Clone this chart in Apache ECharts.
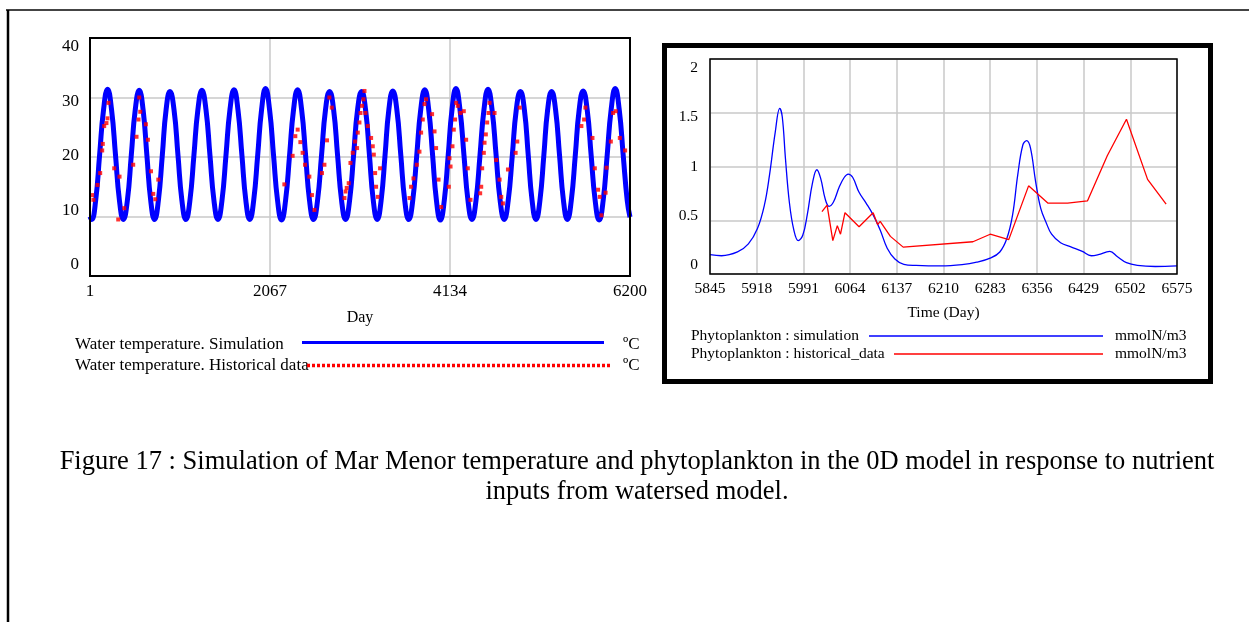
<!DOCTYPE html>
<html>
<head>
<meta charset="utf-8">
<script src="https://cdn.jsdelivr.net/npm/echarts@6/dist/echarts.min.js"></script>
<style>
  html, body { margin: 0; padding: 0; background: #fff; }
  #chart { width: 1249px; height: 622px; }
</style>
</head>
<body>
<div id="chart"></div>
<script>
// ---- Water temperature panel (days 1..6200) ----
const tempXLabels = ['1', '2067', '4134', '6200'];

// simulated water temperature, read at peaks, troughs and intermediate points (ºC)
const simDays = [
  1, 20, 66, 111, 157, 203, 248, 294, 339, 384,
  430, 475, 521, 566, 610, 654, 698, 742,
  786, 831, 875, 919, 965, 1011, 1056, 1102,
  1148, 1194, 1240, 1286, 1332, 1378, 1424, 1470,
  1516, 1562, 1608, 1654, 1699, 1745, 1790, 1835,
  1880, 1926, 1971, 2016, 2062, 2108, 2154, 2200,
  2246, 2292, 2338, 2384, 2430, 2476, 2521, 2567,
  2613, 2659, 2705, 2751, 2797, 2843, 2889, 2935,
  2981, 3027, 3073, 3119, 3164, 3209, 3253, 3298,
  3343, 3388, 3432, 3477, 3523, 3569, 3614, 3660,
  3706, 3752, 3798, 3844, 3889, 3934, 3978, 4023,
  4068, 4113, 4157, 4202, 4248, 4294, 4340, 4386,
  4432, 4478, 4524, 4570, 4616, 4663, 4709, 4756,
  4802, 4849, 4895, 4942, 4987, 5032, 5076, 5121,
  5166, 5211, 5255, 5300, 5345, 5391, 5436, 5481,
  5526, 5572, 5617, 5662, 5708, 5754, 5800, 5846,
  5892, 5938, 5984, 6030, 6076, 6122, 6168, 6200
];
const simTemps = [
  10.0, 9.5, 12.7, 20.3, 28.0, 31.4, 28.0, 20.3, 12.7, 9.5,
  12.7, 20.3, 28.0, 31.2, 28.0, 20.3, 12.7, 9.5,
  12.7, 20.3, 28.0, 31.0, 28.0, 20.3, 12.7, 9.5,
  12.7, 20.3, 28.0, 31.2, 28.0, 20.3, 12.7, 9.5,
  12.7, 20.3, 28.0, 31.3, 28.0, 20.3, 12.7, 9.5,
  12.7, 20.3, 28.0, 31.5, 28.0, 20.3, 12.7, 9.4,
  12.7, 20.3, 28.0, 31.3, 28.0, 20.3, 12.7, 9.5,
  12.7, 20.3, 28.0, 31.0, 28.0, 20.3, 12.7, 9.5,
  12.7, 20.3, 28.0, 31.0, 28.0, 20.3, 12.7, 9.5,
  12.7, 20.3, 28.0, 31.1, 28.0, 20.3, 12.7, 9.5,
  12.7, 20.3, 28.0, 31.3, 28.0, 20.3, 12.7, 9.4,
  12.7, 20.3, 28.0, 31.5, 28.0, 20.3, 12.7, 9.5,
  12.7, 20.3, 28.0, 31.4, 28.0, 20.3, 12.7, 9.5,
  12.7, 20.3, 28.0, 31.0, 28.0, 20.3, 12.7, 9.5,
  12.7, 20.3, 28.0, 31.0, 28.0, 20.3, 12.7, 9.5,
  12.7, 20.3, 28.0, 31.1, 28.0, 20.3, 12.7, 9.4,
  12.7, 20.3, 28.0, 31.5, 28.0, 20.3, 12.7, 9.9
];

// measured water temperature (ºC)
const obsDays = [
  26, 40, 87, 118, 141, 148, 164, 190, 202, 213, 279, 325, 340, 394,
  497, 535, 558, 566, 578, 643, 666, 701, 727, 750, 785,
  2232, 2327, 2358, 2385, 2416, 2442, 2469, 2519, 2549, 2577,
  2664, 2692, 2722, 2749, 2776,
  2922, 2935, 2948, 2971, 2991, 3017, 3044, 3067, 3075, 3094, 3106, 3124,
  3140, 3152, 3163, 3190, 3228, 3247, 3259, 3274, 3285, 3305, 3331,
  3669, 3687, 3714, 3753, 3783, 3802, 3821, 3841, 3859, 3928, 3956, 3974, 4002, 4032,
  4120, 4128, 4140, 4162, 4177, 4192, 4204, 4223, 4254, 4292, 4319, 4338, 4369,
  4480, 4492, 4503, 4522, 4530, 4545, 4560, 4576, 4588, 4645, 4664, 4703, 4722, 4741,
  4799, 4887, 4906, 4934,
  5642, 5673, 5688, 5769, 5796, 5834, 5853, 5872, 5920, 5931, 5980, 6006, 6037, 6083, 6144
];
const obsTemps = [
  13.6, 12.8, 15.3, 17.3, 21.1, 22.2, 25.2, 25.7, 26.5, 29.1, 18.1, 9.5, 16.7, 11.4,
  18.7, 23.4, 26.3, 30.0, 27.6, 25.5, 22.9, 17.6, 13.8, 12.9, 16.2,
  15.4, 20.2, 23.5, 24.6, 22.5, 20.7, 18.7, 16.7, 13.6, 11.1,
  17.3, 18.7, 22.8, 30.0, 28.3,
  13.1, 14.2, 14.8, 15.6, 19.0, 20.7, 22.6, 21.5, 24.1, 25.8, 27.4, 28.6,
  29.7, 31.1, 27.4, 25.2, 23.2, 21.8, 20.4, 17.3, 15.0, 13.3, 18.1,
  13.1, 15.0, 16.4, 18.7, 20.9, 24.1, 26.3, 28.9, 29.7, 27.2, 24.3, 21.5, 16.2, 11.6,
  15.0, 19.8, 18.4, 21.8, 24.6, 26.3, 29.1, 28.6, 27.4, 27.7, 22.9, 18.1, 12.8,
  13.9, 15.0, 18.1, 20.7, 22.4, 23.8, 25.8, 27.4, 29.1, 27.4, 19.5, 16.2, 13.3, 12.2,
  17.9, 20.7, 22.6, 28.3,
  25.2, 26.3, 28.3, 23.2, 18.1, 14.5, 13.3, 10.2, 14.0, 18.2, 22.6, 27.4, 27.7, 23.2, 21.1
];

// ---- Phytoplankton panel (days 5845..6575) ----
const phytoXLabels = ['5845', '5918', '5991', '6064', '6137', '6210', '6283', '6356', '6429', '6502', '6575'];

// simulated phytoplankton (mmolN/m3)
const phytoSimDays = [
  5845, 5863, 5888, 5905, 5919, 5930, 5938, 5947, 5954, 5958, 5963, 5969, 5976, 5983,
  5990, 5997, 6005, 6012, 6018, 6025, 6031, 6038, 6047, 6055, 6061, 6068, 6078, 6089,
  6100, 6111, 6122, 6134, 6148, 6167, 6206, 6239, 6262, 6284, 6298, 6309, 6318, 6326,
  6334, 6340, 6346, 6354, 6362, 6371, 6379, 6393, 6410, 6427, 6441, 6452, 6470, 6482,
  6496, 6513, 6541, 6575
];
const phytoSimVals = [
  0.18, 0.17, 0.205, 0.28, 0.42, 0.64, 0.92, 1.32, 1.54, 1.46, 1.07, 0.67, 0.41, 0.31,
  0.36, 0.55, 0.84, 0.97, 0.89, 0.70, 0.63, 0.67, 0.81, 0.90, 0.93, 0.90, 0.76, 0.66,
  0.55, 0.41, 0.24, 0.14, 0.09, 0.08, 0.075, 0.087, 0.11, 0.15, 0.205, 0.33, 0.55, 0.92,
  1.20, 1.24, 1.17, 0.86, 0.61, 0.47, 0.37, 0.29, 0.25, 0.21, 0.17, 0.18, 0.21, 0.16,
  0.105, 0.08, 0.07, 0.075
];

// measured phytoplankton (mmolN/m3)
const phytoObsDays = [
  6020, 6028, 6037, 6044, 6049, 6056, 6078, 6100, 6107, 6111, 6127, 6147,
  6256, 6283, 6312, 6343, 6373, 6404, 6435, 6466, 6496, 6529, 6558
];
const phytoObsVals = [
  0.58, 0.64, 0.31, 0.45, 0.37, 0.57, 0.44, 0.57, 0.46, 0.49, 0.35, 0.25,
  0.30, 0.37, 0.32, 0.82, 0.66, 0.66, 0.68, 1.10, 1.44, 0.88, 0.65
];

const pair = (xs, ys) => xs.map((x, i) => [x, ys[i]]);

const SERIF = "'Liberation Serif', 'Times New Roman', serif";
const GRID_LINE = { color: '#c8c8c8', width: 1.5 };

const chart = echarts.init(document.getElementById('chart'), null, { renderer: 'canvas' });

chart.setOption({
  animation: false,
  backgroundColor: '#fff',
  textStyle: { fontFamily: SERIF, color: '#000' },
  grid: [
    // temperature plot area
    { left: 90, top: 38, width: 540, height: 238 },
    // temperature value labels
    { left: 90, top: 47, width: 540, height: 218 },
    // phytoplankton plot area
    { left: 710, top: 59, width: 467, height: 215 },
    // phytoplankton value labels
    { left: 710, top: 68, width: 467, height: 197 }
  ],
  xAxis: [
    {
      gridIndex: 0, type: 'category', data: tempXLabels, boundaryGap: false,
      axisLine: { show: false }, axisTick: { show: false },
      splitLine: { show: true, interval: 0, lineStyle: GRID_LINE },
      axisLabel: { interval: 0, fontSize: 17, color: '#000', margin: 7, fontFamily: SERIF },
      name: 'Day', nameLocation: 'middle', nameGap: 34,
      nameTextStyle: { fontSize: 16, color: '#000', fontFamily: SERIF }
    },
    { gridIndex: 0, type: 'value', min: 1, max: 6200, show: false },
    { gridIndex: 1, type: 'value', min: 0, max: 1, show: false },
    {
      gridIndex: 2, type: 'category', data: phytoXLabels, boundaryGap: false,
      axisLine: { show: false }, axisTick: { show: false },
      splitLine: { show: true, interval: 0, lineStyle: GRID_LINE },
      axisLabel: { interval: 0, fontSize: 15.5, color: '#000', margin: 7, fontFamily: SERIF },
      name: 'Time (Day)', nameLocation: 'middle', nameGap: 31,
      nameTextStyle: { fontSize: 15.5, color: '#000', fontFamily: SERIF }
    },
    { gridIndex: 2, type: 'value', min: 5845, max: 6575, show: false },
    { gridIndex: 3, type: 'value', min: 0, max: 1, show: false }
  ],
  yAxis: [
    {
      gridIndex: 0, type: 'value', min: 0, max: 40, interval: 10,
      axisLine: { show: false }, axisTick: { show: false }, axisLabel: { show: false },
      splitLine: { show: true, lineStyle: GRID_LINE }
    },
    {
      gridIndex: 1, type: 'value', min: 0, max: 40, interval: 10,
      axisLine: { show: false }, axisTick: { show: false }, splitLine: { show: false },
      axisLabel: { fontSize: 17, color: '#000', margin: 11, fontFamily: SERIF }
    },
    {
      gridIndex: 2, type: 'value', min: 0, max: 2, interval: 0.5,
      axisLine: { show: false }, axisTick: { show: false }, axisLabel: { show: false },
      splitLine: { show: true, lineStyle: GRID_LINE }
    },
    {
      gridIndex: 3, type: 'value', min: 0, max: 2, interval: 0.5,
      axisLine: { show: false }, axisTick: { show: false }, splitLine: { show: false },
      axisLabel: { fontSize: 15.5, color: '#000', margin: 12, fontFamily: SERIF }
    }
  ],
  series: [
    {
      name: 'Water temperature. Simulation', type: 'line', xAxisIndex: 1, yAxisIndex: 0,
      data: pair(simDays, simTemps), smooth: 0.5, showSymbol: false,
      lineStyle: { color: '#0000ff', width: 5 }, z: 2
    },
    {
      name: 'Water temperature. Historical data', type: 'scatter', xAxisIndex: 1, yAxisIndex: 0,
      data: pair(obsDays, obsTemps), symbol: 'rect', symbolSize: [4, 4],
      itemStyle: { color: '#ff0000' }, z: 3
    },
    {
      name: 'Phytoplankton : simulation', type: 'line', xAxisIndex: 4, yAxisIndex: 2,
      data: pair(phytoSimDays, phytoSimVals), smooth: 0.4, showSymbol: false,
      lineStyle: { color: '#0000ff', width: 1.3 }, z: 2
    },
    {
      name: 'Phytoplankton : historical_data', type: 'line', xAxisIndex: 4, yAxisIndex: 2,
      data: pair(phytoObsDays, phytoObsVals), showSymbol: false,
      lineStyle: { color: '#ff0000', width: 1.3 }, z: 3
    }
  ],
  graphic: [
    // page frame
    { type: 'line', shape: { x1: 6, y1: 10, x2: 1249, y2: 10 }, style: { stroke: '#444', lineWidth: 2 } },
    { type: 'line', shape: { x1: 8, y1: 10, x2: 8, y2: 622 }, style: { stroke: '#000', lineWidth: 2.5 } },
    // plot frames, drawn over the grid lines
    { type: 'rect', z: 100, shape: { x: 90, y: 38, width: 540, height: 238 }, style: { fill: null, stroke: '#000', lineWidth: 2 } },
    { type: 'rect', z: 100, shape: { x: 710, y: 59, width: 467, height: 215 }, style: { fill: null, stroke: '#000', lineWidth: 1.5 } },
    // frame around phytoplankton panel
    { type: 'rect', shape: { x: 664.5, y: 45.5, width: 546, height: 336 }, style: { fill: null, stroke: '#000', lineWidth: 5 } },

    // temperature key
    { type: 'text', left: 75, top: 336, style: { text: 'Water temperature. Simulation', font: "17px 'Liberation Serif', serif", fill: '#000' } },
    { type: 'line', shape: { x1: 302, y1: 342.5, x2: 604, y2: 342.5 }, style: { stroke: '#0000ff', lineWidth: 3 } },
    { type: 'text', left: 623, top: 336, style: { text: 'ºC', font: "17px 'Liberation Serif', serif", fill: '#000' } },
    { type: 'text', left: 75, top: 357, style: { text: 'Water temperature. Historical data', font: "17px 'Liberation Serif', serif", fill: '#000' } },
    { type: 'line', shape: { x1: 307, y1: 365.5, x2: 610, y2: 365.5 }, style: { stroke: '#ff0000', lineWidth: 3.5, lineDash: [3, 2] } },
    { type: 'text', left: 623, top: 357, style: { text: 'ºC', font: "17px 'Liberation Serif', serif", fill: '#000' } },

    // phytoplankton key
    { type: 'text', left: 691, top: 328, style: { text: 'Phytoplankton : simulation', font: "15.5px 'Liberation Serif', serif", fill: '#000' } },
    { type: 'line', shape: { x1: 869, y1: 336, x2: 1103, y2: 336 }, style: { stroke: '#0000ff', lineWidth: 1.3 } },
    { type: 'text', left: 1115, top: 328, style: { text: 'mmolN/m3', font: "15.5px 'Liberation Serif', serif", fill: '#000' } },
    { type: 'text', left: 691, top: 346, style: { text: 'Phytoplankton : historical_data', font: "15.5px 'Liberation Serif', serif", fill: '#000' } },
    { type: 'line', shape: { x1: 894, y1: 354, x2: 1103, y2: 354 }, style: { stroke: '#ff0000', lineWidth: 1.3 } },
    { type: 'text', left: 1115, top: 346, style: { text: 'mmolN/m3', font: "15.5px 'Liberation Serif', serif", fill: '#000' } },

    // caption
    { type: 'text', x: 637, y: 462, style: { text: 'Figure 17 : Simulation of Mar Menor temperature and phytoplankton in the 0D model in response to nutrient', font: "26.5px 'Liberation Serif', serif", fill: '#000', textAlign: 'center', textVerticalAlign: 'middle' } },
    { type: 'text', x: 637, y: 492, style: { text: 'inputs from watersed model.', font: "26.5px 'Liberation Serif', serif", fill: '#000', textAlign: 'center', textVerticalAlign: 'middle' } }
  ]
});
</script>
</body>
</html>
